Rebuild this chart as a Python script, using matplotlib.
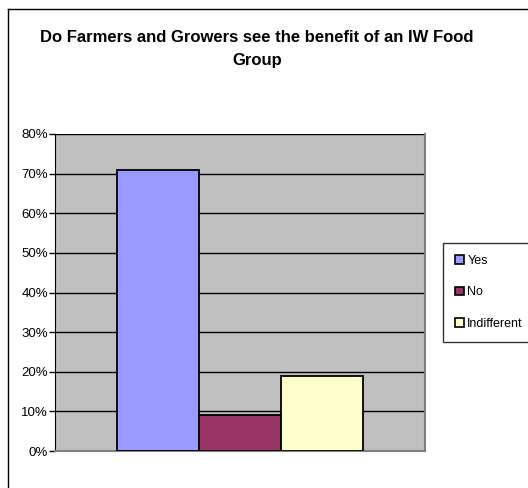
import matplotlib.pyplot as plt
import matplotlib.patches as mpatches
from matplotlib.lines import Line2D

plt.rcParams['font.family'] = ['Liberation Sans', 'DejaVu Sans']

# Datos
categorias = ['Yes', 'No', 'Indifferent']
valores = [0.71, 0.09, 0.19]
colores = ['#9999FF', '#993366', '#FFFFCC']
ticks = [0, 0.1, 0.2, 0.3, 0.4, 0.5, 0.6, 0.7, 0.8]
tick_labels = ['0%', '10%', '20%', '30%', '40%', '50%', '60%', '70%', '80%']

fig = plt.figure(figsize=[5.28, 4.88], dpi=100)
W, H = 528, 488

# Marco exterior del grafico (solo arriba e izquierda visibles)
fig.add_artist(Line2D([8 / W, 1], [1 - 9 / H, 1 - 9 / H], color='black', lw=1))
fig.add_artist(Line2D([8 / W, 8 / W], [0, 1 - 9 / H], color='black', lw=1))

# Area de trazado
ax = fig.add_axes([55 / W, 1 - 451 / H, 370 / W, 317 / H])
ax.set_facecolor('#C0C0C0')

ancho = 82 / 370
x0 = 0.5 - 1.5 * ancho
for i, (cat, v, c) in enumerate(zip(categorias, valores, colores)):
    ax.bar(x0 + i * ancho, v, width=ancho, align='edge', color=c,
           edgecolor='black', lw=1.3, label=cat, zorder=3)

ax.set_xlim(0, 1)
ax.set_ylim(0, 0.8)
ax.set_yticks(ticks)
ax.set_yticklabels(tick_labels, fontsize=9.5)
ax.set_xticks([])
ax.yaxis.grid(True, color='black', lw=1)
ax.set_axisbelow(True)
ax.tick_params(axis='y', length=4, width=1, pad=1, colors='black')

for s in ['top', 'right', 'bottom']:
    ax.spines[s].set_color('#808080')
    ax.spines[s].set_linewidth(1.5)
ax.spines['top'].set_visible(False)
ax.spines['left'].set_color('black')

# Titulo
fig.text(257 / W, 1 - 38 / H, 'Do Farmers and Growers see the benefit of an IW Food',
         ha='center', va='center', fontsize=12, fontweight='bold')
fig.text(257 / W, 1 - 60 / H, 'Group', ha='center', va='center',
         fontsize=12, fontweight='bold')

# Leyenda
handles = [mpatches.Patch(facecolor=c, edgecolor='black', lw=1.2) for c in colores]
leg = fig.legend(handles, categorias, loc='upper left',
                 bbox_to_anchor=(443 / W, 1 - 243 / H), fontsize=9,
                 frameon=True, fancybox=False, edgecolor='black',
                 handlelength=0.7, handleheight=0.7, handletextpad=0.3,
                 labelspacing=1.55, borderpad=0.95, borderaxespad=0)
leg.get_frame().set_linewidth(1)

plt.savefig('out.png', dpi=100)
